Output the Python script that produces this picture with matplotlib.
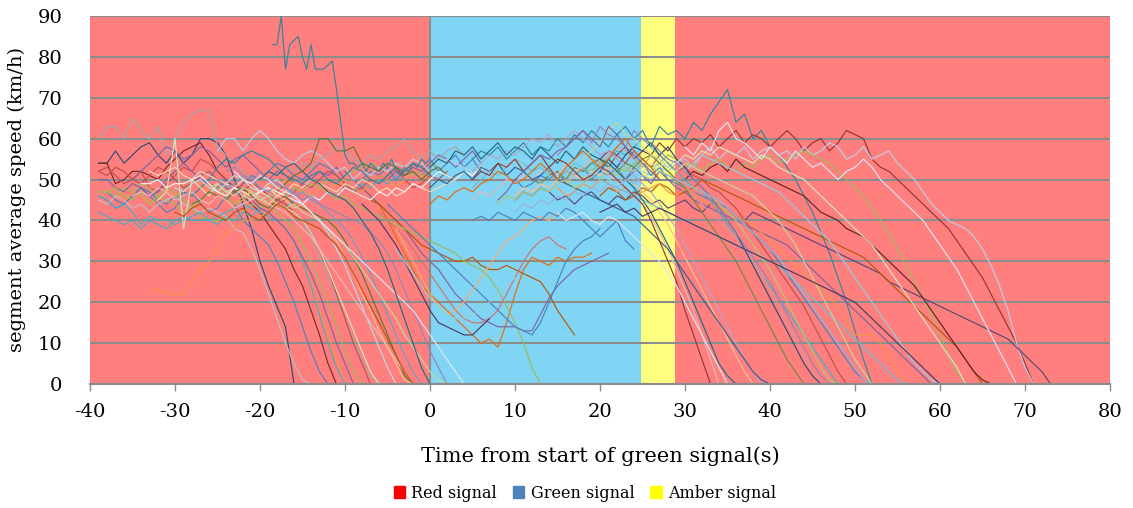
import matplotlib
matplotlib.use("Agg")
import matplotlib.pyplot as plt
from matplotlib.patches import Patch
import numpy as np

# ---------------- data ----------------
x_ticks = [-40, -30, -20, -10, 0, 10, 20, 30, 40, 50, 60, 70, 80]
y_ticks = [0, 10, 20, 30, 40, 50, 60, 70, 80, 90]
phase_names = ["Red signal", "Green signal", "Amber signal"]
green_start = 0.0
amber_start = 24.8
red_start = 28.8

# vehicles that stop during the red phase (start time, speeds at 1 s steps)
stop_starts = [-39, -39, -39, -39, -39, -33, -39, -39, -39, -39, -32, -30, -28, -35,
               -25, -22, -24, -26, -23, -20, -30]
stop_speeds = [
    [54,54,57,54,56,58,59,56,54,57,54,56,60,60,59,56,50,44,38,30,24,19,14,0],
    [54,54,49,50,52,52,51,50,53,55,57,58,59,56,52,50,48,46,44,42,39,36,33,28,24,18,12,5,0],
    [47,47,45,44,46,48,46,44,42,43,46,47,44,42,43,46,44,40,38,36,34,30,25,20,14,8,3,0],
    [60,63,63,60,65,62,60,63,56,60,64,66,67,67,58,56,54,52,50,48,47,45,44,42,40,36,31,26,21,16,11,6,2,0],
    [45,44,46,45,43,44,42,44,45,46,44,43,42,43,42,41,38,37,33,28,22,16,10,5,1,0],
    [23,23,22,22,22,25,28,30,33,37,38,40,40,41,42,40,38,35,30,25,18,12,6,0],
    [46,45,43,44,42,39,41,40,40,39,40,41,42,40,41,42,43,44,43,42,41,40,38,35,30,24,17,10,4,0],
    [50,50,48,47,49,48,46,47,50,52,54,52,50,49,48,50,47,46,45,43,42,40,38,35,31,27,22,16,10,5,0],
    [47,47,48,46,45,47,44,46,48,47,45,43,45,47,48,46,44,45,47,46,44,42,40,38,34,30,25,20,14,8,3,0],
    [52,51,53,52,50,49,51,53,52,50,48,49,51,52,50,48,47,49,50,48,46,45,44,42,40,37,33,28,22,16,10,5,0],
    [45,47,60,38,50,48,46,49,47,48,46,45,47,46,44,43,42,40,37,33,28,23,18,13,8,3,0],
    [48,47,49,50,48,47,49,51,50,48,47,49,50,48,46,44,42,40,37,33,29,24,19,14,9,4,0],
    [44,45,47,46,45,47,48,46,44,43,45,46,44,43,42,41,40,38,35,31,27,22,17,12,7,2,0],
    [46,47,46,48,47,45,46,47,45,44,46,45,43,44,45,46,44,43,42,40,38,36,33,30,27,24,21,18,15,12,9,6,3,0],
    [50,48,49,51,50,48,47,49,48,46,47,45,44,42,40,38,35,31,27,22,17,12,7,3,0],
    [46,47,45,44,46,45,43,44,42,40,38,35,31,27,22,18,13,9,5,1,0],
    [52,53,51,50,52,50,49,48,47,45,46,44,43,42,41,40,39,37,35,32,28,23,18,13,8,4,0],
    [48,49,47,46,48,47,45,46,44,43,44,42,41,40,38,36,34,31,28,25,22,19,16,12,9,6,3,1,0],
    [52,50,49,51,50,48,47,46,44,42,40,38,36,34,32,30,28,26,24,22,20,18,15,12,9,6,3,0],
    [50,52,51,53,54,52,50,49,47,46,45,43,40,37,33,28,22,16,10,4,0],
    [42,41,43,44,42,41,40,42,43,41,40,42,44,43,41,40,39,38,36,34,31,27,23,19,15,11,7,3,0],
]

# fast vehicle recorded at 0.5 s steps
fast_start = -18.5
fast_speeds = [83,83,90,77,83,84,85,80,77,83,77,77,77,78,79,72,64,56,54,54,53,54,52,54,
               53,52,54,53,55,52,51,53,52,54,53,55,54]

# vehicles that slow down in the green phase
dip_starts = [-8, -10, -12, -16, -5, -6, -4, -8, -4]
dip_speeds = [
    [48,46,44,40,36,32,28,24,22,20,18,16,14,12,10,11,9,15,22,28,31,30,29,31,30,31,31,32],
    [52,50,48,46,44,42,40,38,35,32,30,28,25,22,20,18,16,15,14,14,14,13,13,17,21,24,26,28,29,30,31,32],
    [50,49,48,47,46,45,44,42,40,38,36,34,33,32,31,30,30,31,29,28,28,29,28,27,26,25,22,18,15,12],
    [48,47,46,48,47,45,46,44,43,42,41,40,39,38,37,36,35,34,33,32,30,29,28,26,23,19,15,10,4,0],
    [44,42,40,38,36,34,32,30,28,26,24,22,20,18,16,14,13,12,15,20,25,30,33,35,36,38],
    [42,40,38,36,33,30,27,24,21,18,16,15,15,16,18,22,26,30,33,35,36,34,33],
    [38,34,30,26,22,19,17,18,20,23,26,29,32,35,36,38,40,41,40,42],
    [44,42,40,37,34,30,26,22,18,15,14,13,12,12,14,16],
    [33,30,27,24,21,19,17,16,16,17,18,20,22,24,26],
]

# vehicles passing through during the red phase toward the green phase
pass_starts = [-39, -39, -39, -39, -35, -39, -25, -30, -20, -18, -33, -34]
pass_speeds = [
    [46,45,43,44,46,48,47,45,44,46,48,50,52,51,50,48,47,49,51,50,52,54,53,51,50,52,54,53,51,49,48,50,52,51,53,50,52,54,53,55,52,54,56,53,55,52],
    [52,53,51,49,50,52,48,47,49,51,53,52,55,54,52,50,48,47,49,48,46,44,45,47,49,48,50,52,51,49,47,48,50,49,51,53,50,48,49,51,50,52],
    [47,47,46,48,47,49,48,46,45,44,42,43,41,40,40,41,40,42,44,43,45,47,46,48,47,49,48,50,49,51,52,53,54,53,52,54,53,51,52,54,53],
    [42,41,40,39,40,38,40,39,38,40,41,40,40,40,39,41,40,42,41,43,42,44,43,45,44,46,45,47,46,48,47,49,48,50,49,51,50,52,51,53],
    [50,52,54,56,58,57,55,56,58,57,55,53,55,56,54,52,50,52,51,49,48,50,52,51,53,50,48,47,49,51,50,52,51,53,52,54,56,55,53,55,57,54],
    [47,47,48,45,47,46,44,45,47,46,48,50,49,47,46,45,44,46,48,47,49,48,50,49,47,46,48,47,49,50,48,47,49,51,50,48,50,52,51,50],
    [57,60,60,57,60,62,60,57,55,54,56,57,56,54,52,53,50,52,51,53,52,54,53,55,54,52,53,55,54,53,52,54],
    [45,47,46,48,50,53,55,54,56,57,56,55,53,51,50,49,51,52,50,49,51,53,52,50,49,51,53,52,54,53,51],
    [50,52,51,53,52,54,53,55,56,58,57,55,54,56,55,57,58,60,57,55,57,55,57,58,56],
    [47,49,51,52,54,60,60,57,57,58,54,53,52,54,53,51,52,50,52,53,51,50,52],
    [52,51,52,53,51,50,52,51,50,49,48,50,49,47,48,46,47,49,48,50,49,48,47,49,48,50,49,47,48,46,47,49,48,47,48,49,50,52,51,53,52,54,53,55,54],
    [49,49,50,48,49,49,50,51,49,47,46,48,47,46,47,48,47,46,45,44,46,45,47,46,48,47,46,45,47,46,48,47,49,48,50,52,51,50,52,51,53,52,54,53,55],
]

# vehicles that arrive in green/amber and stop in the following red phase
late_starts = [5, 20, 25, 10, 15, 20, 30, 20, 10, 22, 20, 18, 15, 15, 20, 12, 10, 5, 5, 0,
               8, 5, 30, 25, 0, 5, 15, 18, 10, 20, 5, 0, 8, 15]
late_speeds = [
    [55,57,56,58,55,57,59,56,58,57,60,58,61,59,62,60,58,61,63,60,62,58,63,61,62,60,64,62,66,69,72,64,66,60,62,58,56,53,50,46,42,37,32,26,20,13,6,0],
    [55,57,56,58,55,57,56,59,57,60,58,60,59,61,58,60,62,59,61,60,58,60,62,60,57,59,60,57,59,62,61,60,55,53,52,50,48,46,44,42,40,38,35,32,29,26,22,18,14,10,5,0],
    [50,52,54,53,55,52,54,56,58,55,57,56,58,55,57,58,56,57,55,58,56,57,59,58,55,56,58,55,56,57,54,52,50,47,44,42,40,39,38,36,33,29,24,18,10,4,0],
    [45,47,46,48,47,45,46,44,46,47,45,44,46,45,47,46,44,45,43,44,45,43,42,44,43,42,41,40,42,41,40,39,38,37,36,35,34,33,32,31,30,29,28,27,25,24,23,22,21,20,19,18,17,16,15,14,13,12,11,9,7,5,3,0],
    [50,52,51,53,52,54,55,53,52,54,55,53,54,56,55,53,54,52,54,55,53,52,54,53,55,56,54,55,56,57,56,55,54,52,50,48,46,43,40,37,33,29,25,21,17,12,7,3,0],
    [46,48,47,45,46,48,47,49,48,46,47,48,50,49,48,47,46,45,44,43,42,41,40,39,38,37,36,35,34,33,32,31,29,27,25,23,21,19,17,15,13,11,9,6,3,0],
    [50,52,51,53,54,52,55,53,52,51,50,49,48,47,46,44,42,41,40,38,37,36,34,32,30,28,26,24,21,18,15,12,9,6,3,1,0],
    [48,50,49,51,50,52,51,53,52,54,55,53,56,55,54,53,52,51,50,49,48,47,45,43,41,39,37,35,32,29,26,23,20,17,14,11,8,5,3,1,0],
    [50,48,49,51,50,52,49,51,53,50,52,51,53,50,52,54,51,53,50,49,48,47,46,45,44,43,41,39,37,35,33,30,27,24,21,18,15,12,9,6,3,1,0],
    [52,50,53,51,49,52,50,48,47,45,44,43,42,41,40,39,38,37,36,35,34,32,30,28,26,24,22,20,18,16,14,12,10,8,6,4,2,0],
    [55,53,56,54,57,55,53,56,54,52,53,51,50,48,47,45,43,40,37,34,31,28,25,22,19,15,11,7,3,0],
    [52,54,53,55,57,56,58,60,58,56,54,52,50,48,47,45,42,39,36,33,30,27,24,21,18,15,12,9,6,3,0],
    [48,46,47,49,48,50,49,47,48,46,47,48,49,47,46,48,47,45,44,43,42,41,40,39,37,35,33,31,29,27,25,23,21,19,15,12,12,12,10,6,3,0],
    [50,52,51,53,55,54,56,58,57,55,53,56,54,52,50,48,46,44,42,40,38,36,33,30,27,23,19,15,11,7,3,0],
    [52,55,53,56,58,57,59,56,58,55,53,50,48,46,43,40,37,33,29,25,21,17,13,9,5,2,0],
    [50,49,51,52,50,53,52,54,55,53,52,54,53,55,56,54,52,50,48,45,42,39,36,33,30,26,22,18,14,10,6,3,0],
    [46,48,47,49,48,50,49,51,50,52,51,53,52,50,49,47,45,42,39,35,31,27,23,19,15,11,7,3,0],
    [52,54,56,55,57,56,58,60,59,61,58,60,62,60,58,56,57,55,53,51,49,47,44,41,38,34,30,26,22,18,14,10,6,3,0],
    [45,47,46,48,50,49,51,50,52,53,51,54,52,53,55,53,51,50,48,46,44,41,37,33,28,23,18,12,6,0],
    [48,50,49,51,52,50,53,52,54,51,53,52,50,51,53,50,49,48,47,46,45,44,43,42,41,39,37,35,33,30,27,24,21,18,15,12,9,6,3,1,0],
    [44,46,45,47,46,48,47,49,50,48,49,51,50,52,51,53,52,54,53,52,51,50,49,48,47,46,44,42,40,37,34,31,28,24,20,16,12,8,4,1,0],
    [48,50,52,51,53,55,54,52,53,51,50,52,54,53,51,50,49,48,47,46,45,44,43,42,41,40,39,38,37,36,35,34,33,32,31,30,29,27,25,23,21,19,17,15,13,11,9,7,5,3,1,0],
    [58,56,59,57,62,64,60,59,57,55,58,56,54,57,55,53,54,52,50,52,53,55,53,50,48,46,44,42,40,37,34,31,28,24,20,16,12,8,4,0],
    [52,54,53,55,54,56,55,57,56,58,57,56,55,54,56,55,53,52,51,50,48,46,44,42,40,38,36,34,31,28,25,22,19,16,13,10,7,4,0],
    [53,55,54,57,56,58,55,57,59,56,58,57,55,58,56,54,57,55,58,56,55,54,52,50,48,45,42,38,34,30,25,20,15,10,5,2,0],
    [50,52,51,54,53,55,52,54,56,53,55,54,52,50,51,53,52,50,48,46,44,40,35,30,25,18,12,6,0],
    [56,58,60,62,59,63,61,60,58,62,60,59,57,55,54,52,50,48,46,43,40,37,34,31,28,25,21,17,13,9,5,2,0],
    [55,57,59,62,64,61,60,58,56,55,53,52,54,53,52,51,50,49,48,47,46,44,42,40,37,34,30,26,22,18,14,10,6,3,0],
    [42,44,43,45,44,46,45,47,46,48,47,49,48,50,49,51,50,52,51,50,49,48,47,46,45,43,41,39,37,35,33,31,28,25,22,19,16,13,10,7,4,1,0],
    [42,43,44,42,43,41,42,43,42,41,40,39,38,37,36,35,34,33,32,31,30,29,28,27,26,25,24,23,22,21,20,18,16,14,12,10,8,6,4,2,0],
    [40,41,40,42,41,40,42,41,40,42,41,43,42,40,38,36,38,40,35,33],
    [44,46,45,47,48,47,49,50,52,51,49,50,52,54,52,50,53,55,57,55,53,55,58,60,57,55,53,50],
    [45,47,50,52,54,56,55,57,58,60,62,60,58,63,61,58,56,54,52,50],
    [42,40,41,42,40,39,41,40,38,36,34,32,30,27,24,20,16,12,8,4,0],
]

# ---------------- style ----------------
stop_colors = ['#2C4D75','#772C2A','#4F81BD','#A6A6A6','#BFBFBF','#F79646','#4BACC6',
               '#8064A2','#9BBB59','#C0504D','#D7E4BD','#B7DEE8','#5F7530','#E6B9B8',
               '#729ACA','#FAC090','#9983B5','#C3D69B','#DCE6F2','#276A7C','#B65708']
pass_colors = ['#4F81BD','#C0504D','#9BBB59','#4BACC6','#8064A2','#F79646','#B9CDE5',
               '#31859C','#A6A6A6','#5F7530','#FCD5B5','#F2F2F2']
dip_colors = ['#E46C0A','#8064A2','#B65708','#9BBB59','#4F81BD','#CD7371','#F9AB6B',
              '#4D3B62','#93CDDD']
late_colors = ['#31859C','#953735','#B9CDE5','#5C4776','#9BBB59','#B65708','#632523',
               '#93CDDD','#4F81BD','#8064A2','#C0504D','#4BACC6','#F79646','#D99694',
               '#2C4D75','#71893F','#FAC090','#B3A2C7','#E6B9B8','#3A5F8B','#AFC97A',
               '#6FBDD1','#DCE6F2','#D7E4BD','#276A7C','#8E3B39','#9983B5','#C3D69B',
               '#95B3D7','#4D3B62','#4F81BD','#E46C0A','#8064A2','#DCE6F2']

fig = plt.figure(figsize=(11.33, 5.08), dpi=100)
ax = fig.add_axes([90/1133, 1-384/508, 1020/1133, 368/508])

ax.axvspan(x_ticks[0], green_start, color='#FF7F7F', lw=0, zorder=0)
ax.axvspan(green_start, amber_start, color='#80D5F5', lw=0, zorder=0)
ax.axvspan(amber_start, red_start, color='#FFFF7F', lw=0, zorder=0)
ax.axvspan(red_start, x_ticks[-1], color='#FF7F7F', lw=0, zorder=0)

groups = [(stop_starts, stop_speeds, stop_colors), (pass_starts, pass_speeds, pass_colors),
          (dip_starts, dip_speeds, dip_colors), (late_starts, late_speeds, late_colors)]
maxlen = max(len(g[0]) for g in groups)
for i in range(maxlen):
    for starts, speeds, cols in groups:
        if i < len(starts):
            t = starts[i] + np.arange(len(speeds[i]))
            ax.plot(t, speeds[i], color=cols[i], lw=0.85, zorder=3)
ax.plot(fast_start + 0.5*np.arange(len(fast_speeds)), fast_speeds, color='#31859C', lw=0.85, zorder=3)

ax.axvline(0, color='#8C8C8C', lw=1.5, zorder=2)

ax.set_xlim(x_ticks[0], x_ticks[-1])
ax.set_ylim(y_ticks[0], y_ticks[-1])
ax.set_xticks(x_ticks)
ax.set_yticks(y_ticks)
ax.set_xticklabels([str(v) for v in x_ticks])
ax.yaxis.grid(True, color='#8C8C8C', lw=1.5, zorder=1.5)
ax.set_axisbelow('line')
for s in ['top', 'right', 'left']:
    ax.spines[s].set_visible(False)
ax.spines['bottom'].set_color('#8C8C8C')
ax.spines['bottom'].set_linewidth(1.5)
ax.spines['bottom'].set_zorder(4)

font = 'DejaVu Serif'
ax.tick_params(axis='x', direction='out', length=5, width=1.0, color='#8C8C8C',
               labelsize=14, pad=9)
ax.tick_params(axis='y', length=0, labelsize=14, pad=20)
for lab in ax.get_xticklabels() + ax.get_yticklabels():
    lab.set_fontfamily(font)

ax.set_xlabel('Time from start of green signal(s)', fontsize=15, family=font, labelpad=18)
ax.set_ylabel('segment average speed (km/h)', fontsize=14, family=font, labelpad=8)

handles = [Patch(color='#FF0000'), Patch(color='#4F81BD'), Patch(color='#FFFF00')]
fig.legend(handles, phase_names, loc='center', bbox_to_anchor=(585/1133, 1-493/508),
           ncol=3, frameon=False, handlelength=0.7, handleheight=0.7, handletextpad=0.4,
           columnspacing=1.0, prop={'family': font, 'size': 11.5})

fig.savefig('out.png', dpi=100)
